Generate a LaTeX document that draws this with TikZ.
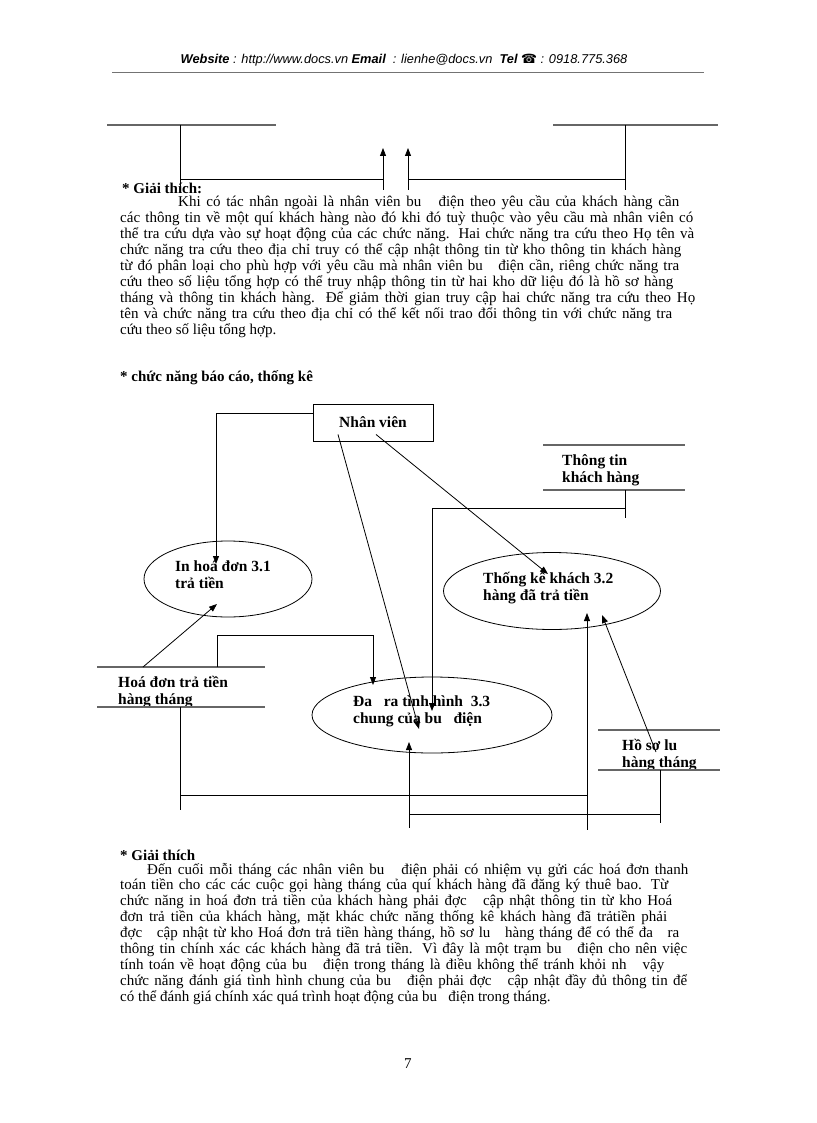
\documentclass[tikz,border=0pt]{standalone}
\usepackage{fontspec}
\setmainfont{Liberation Serif}
\newfontfamily\hdrfont{Liberation Sans}
\newfontfamily\symfont{DejaVu Sans}
\usetikzlibrary{arrows.meta,shapes.geometric,positioning}

\begin{document}
\begin{tikzpicture}[x=1pt, y=-1pt,
    flow/.style = {-{Triangle[length=8pt,width=6pt]}, line width=0.8pt},
    wire/.style = {line width=0.8pt},
    storeline/.style = {draw=black!60, line width=1.5pt},
    proc/.style = {ellipse, draw, line width=0.8pt, inner sep=0pt},
    lbl/.style = {font=\fontsize{15.5}{17}\selectfont\bfseries, align=left, inner sep=0pt, anchor=base west},
    txt/.style = {font=\fontsize{15}{16}\selectfont, inner sep=0pt, anchor=base west},
    head/.style = {font=\fontsize{15}{16}\selectfont\bfseries, inner sep=0pt, anchor=base west}]
\useasboundingbox (0,0) rectangle (816,1123);

% header
\node[font=\hdrfont\fontsize{12.8}{14}\selectfont\itshape, inner sep=0pt] (hdr) at (404,60)
    {\textbf{Website} : http://www.docs.vn \textbf{Email} \ : lienhe@docs.vn \ \textbf{Tel} {\symfont\bfseries ☎} : 0918.775.368};
\draw[black!55, line width=0.8pt] (112,72) -- (704,72);

% end of the previous diagram
\draw[storeline] (107,125) -- (276,125);
\draw[storeline] (553,125) -- (718,125);
\draw[wire] (180,125) -- (180,187);
\draw[wire] (180,179) -- (383,179);
\draw[flow] (383,190) -- (383,148);
\draw[flow] (408,190) -- (408,148);
\draw[wire] (408,179) -- (625,179);
\draw[wire] (625,125) -- (625,190);

% first explanation
\node[head] (gt1) at (122,194) {* Giải thích:};
\node[txt] (a0) at (178,207) {\makebox[501pt][s]{Khi có tác nhân ngoài là nhân viên bu~~~điện theo yêu cầu của khách hàng cần}};
\foreach \e/\ln [count=\i from 1] in {
    693/{các thông tin về một quí khách hàng nào đó khi đó tuỳ thuộc vào yêu cầu mà nhân viên có},
    694/{thể tra cứu dựa vào sự hoạt động của các chức năng. Hai chức năng tra cứu theo Họ tên và},
    681/{chức năng tra cứu theo địa chỉ truy có thể cập nhật thông tin từ kho thông tin khách hàng},
    679/{từ đó phân loại cho phù hợp với yêu cầu mà nhân viên bu~~~điện cần, riêng chức năng tra},
    673/{cứu theo số liệu tổng hợp có thể truy nhập thông tin từ hai kho dữ liệu đó là hồ sơ hàng},
    695/{tháng và thông tin khách hàng. Để giảm thời gian truy cập hai chức năng tra cứu theo Họ},
    672/{tên và chức năng tra cứu theo địa chỉ có thể kết nối trao đổi thông tin với chức năng tra}}
  \node[txt] (a\i) at (120,207+15.9*\i) {\makebox[\dimexpr\e pt-120pt\relax][s]{\ln}};
\node[txt] (a8) at (120,207+15.9*8) {cứu theo số liệu tổng hợp.};

% diagram
\node[head] (dtitle) at (120,381) {* chức năng báo cáo, thống kê};

\node[draw, line width=0.9pt, minimum width=120pt, minimum height=37pt, inner sep=0pt,
      font=\fontsize{15.5}{17}\selectfont\bfseries] (nv) at (373,422.5) {Nhân viên};

\node[proc, minimum width=168pt, minimum height=76pt] (p31) at (228,579) {};
\node[proc, minimum width=217pt, minimum height=77pt] (p32) at (552,591) {};
\node[proc, minimum width=240pt, minimum height=76pt] (p33) at (432,715) {};
\node[lbl] (l31) at (175,588) {In hoá đơn 3.1\\trả tiền};
\node[lbl] (l32) at (483,600) {Thống kê khách 3.2\\hàng đã trả tiền};
\node[lbl] (l33) at (353,723) {Đa~~~ra tình hình~~3.3\\chung của bu~~~điện};

% data stores
\node[lbl] (tt) at (562,482) {Thông tin\\khách hàng};
\draw[storeline] (543,445) -- (685,445);
\draw[storeline] (543,490) -- (685,490);
\node[lbl] (hd) at (118,704) {Hoá đơn trả tiền\\hàng tháng};
\draw[storeline] (97,667) -- (265,667);
\draw[storeline] (97,707) -- (265,707);
\node[lbl] (hs) at (622,767) {Hồ sơ lu\\hàng tháng};
\draw[storeline] (598,730) -- (720,730);
\draw[storeline] (598,770) -- (720,770);

% connection points
\coordinate (in31a) at (216,564);
\coordinate (in31b) at (217,604);
\coordinate (in32a) at (548,574);
\coordinate (in32b) at (587,613);
\coordinate (in32c) at (602,615);
\coordinate (in33a) at (419,729);
\coordinate (in33b) at (373,685);
\coordinate (in33c) at (432,711);
\coordinate (in33d) at (409,742);
\coordinate (hd1) at (143,667);
\coordinate (hd2) at (217,667);
\coordinate (hd3) at (180,707);
\coordinate (hs1) at (656,752);
\coordinate (hs2) at (660,770);
\coordinate (tt1) at (625,490);
\coordinate (j1) at (180,795);
\coordinate (j2) at (660,814);
\coordinate (j3) at (625,508);

% flows
\draw[flow] ([yshift=9pt]nv.west) -| (in31a);
\draw[flow] ([xshift=-35pt,yshift=7pt]nv.south) -- (in33a);
\draw[flow] ([xshift=3pt,yshift=7pt]nv.south) -- (in32a);
\draw[flow] (hd1) -- (in31b);
\draw[flow] (hd2) -- ++(0,-32) -| (in33b);
\draw[wire] (hd3) -- ++(0,103);
\draw[flow] (j1) -| (in32b);
\draw[wire] (in32b |- j1) -- ++(0,35);
\draw[flow] (hs1) -- (in32c);
\draw[wire] (hs2) -- ++(0,53);
\draw[flow] (j2) -| (in33d);
\draw[wire] (in33d |- j2) -- ++(0,14);
\draw[wire] (tt1) -- ++(0,28);
\draw[flow] (j3) -| (in33c);

% second explanation
\node[head] (gt2) at (120,860) {* Giải thích};
\node[txt] (b0) at (147,874) {\makebox[541pt][s]{Đến cuối mỗi tháng các nhân viên bu~~~điện phải có nhiệm vụ gửi các hoá đơn thanh}};
\foreach \e/\ln [count=\i from 1] in {
    668/{toán tiền cho các các cuộc gọi hàng tháng của quí khách hàng đã đăng ký thuê bao. Từ},
    672/{chức năng in hoá đơn trả tiền của khách hàng phải đợc~~~cập nhật thông tin từ kho Hoá},
    667/{đơn trả tiền của khách hàng, mặt khác chức năng thống kê khách hàng đã trảtiền phải},
    679/{đợc~~~cập nhật từ kho Hoá đơn trả tiền hàng tháng, hồ sơ lu~~~hàng tháng để có thể đa~~~ra},
    687/{thông tin chính xác các khách hàng đã trả tiền. Vì đây là một trạm bu~~~điện cho nên việc},
    664/{tính toán về hoạt động của bu~~~điện trong tháng là điều không thể tránh khỏi nh~~~vậy},
    687/{chức năng đánh giá tình hình chung của bu~~~điện phải đợc~~~cập nhật đầy đủ thông tin để}}
  \node[txt] (b\i) at (120,874+15.9*\i) {\makebox[\dimexpr\e pt-120pt\relax][s]{\ln}};
\node[txt] (b8) at (120,874+15.9*8) {có thể đánh giá chính xác quá trình hoạt động của bu~~~điện trong tháng.};

% page number
\node[txt] (pg) at (404,1068) {7};
\end{tikzpicture}
\end{document}
